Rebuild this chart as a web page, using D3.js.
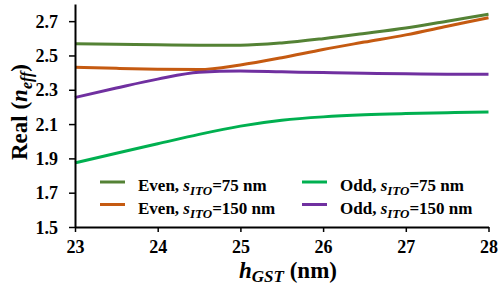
<!DOCTYPE html>
<html>
<head>
<meta charset="utf-8">
<script src="https://cdn.jsdelivr.net/npm/d3@7"></script>
<style>
body { margin: 0; background: #fff; }
</style>
</head>
<body>
<div id="chart"></div>
<script>
var hGST = [23, 23.5, 24, 24.5, 25, 25.5, 26, 26.5, 27, 27.5, 28];
var evenS75 = [2.568, 2.565, 2.562, 2.56, 2.56, 2.573, 2.598, 2.628, 2.66, 2.70, 2.74];
var evenS150 = [2.432, 2.425, 2.42, 2.418, 2.445, 2.487, 2.535, 2.578, 2.62, 2.67, 2.72];
var oddS75 = [1.874, 1.93, 1.985, 2.04, 2.088, 2.122, 2.142, 2.154, 2.161, 2.166, 2.17];
var oddS150 = [2.255, 2.31, 2.362, 2.402, 2.41, 2.405, 2.40, 2.396, 2.393, 2.391, 2.39];
var xTicks = [23, 24, 25, 26, 27, 28];
var yTicks = [1.5, 1.7, 1.9, 2.1, 2.3, 2.5, 2.7];

var series = [
    {name: "Even", s: "75", values: evenS75, color: "#548235", col: 0, row: 0},
    {name: "Even", s: "150", values: evenS150, color: "#c55a11", col: 0, row: 1},
    {name: "Odd", s: "75", values: oddS75, color: "#00b050", col: 1, row: 0},
    {name: "Odd", s: "150", values: oddS150, color: "#7030a0", col: 1, row: 1}
];

var font = "'Liberation Serif', 'Times New Roman', serif";
var width = 501, height = 286;
var svg = d3.select("#chart").append("svg")
    .attr("width", width)
    .attr("height", height);

var x = d3.scaleLinear().domain([23, 28]).range([75, 488.5]);
var y = d3.scaleLinear().domain([1.5, 2.8]).range([227, 4]);

var line = d3.line()
    .x(function(d, i) { return x(hGST[i]); })
    .y(function(d) { return y(d); })
    .curve(d3.curveMonotoneX);

svg.selectAll(".series")
    .data(series)
    .enter().append("path")
    .attr("class", "series")
    .attr("d", function(d) { return line(d.values); })
    .style("fill", "none")
    .style("stroke", function(d) { return d.color; })
    .style("stroke-width", 3);

// axes
var xAxis = svg.append("g")
    .attr("transform", "translate(0," + y(1.5) + ")")
    .call(d3.axisBottom(x).tickValues(xTicks).tickSize(5).tickSizeOuter(0).tickFormat(d3.format("d")));
var yAxis = svg.append("g")
    .attr("transform", "translate(" + x(23) + ",0)")
    .call(d3.axisLeft(y).tickValues(yTicks).tickSize(6).tickSizeOuter(0).tickFormat(d3.format(".1f")));

[xAxis, yAxis].forEach(function(a) {
    a.attr("font-family", null).attr("font-size", null);
    a.select(".domain").style("stroke", "#000").style("stroke-width", 2);
    a.selectAll(".tick line").style("stroke", "#000").style("stroke-width", 1.5);
    a.selectAll(".tick text")
        .style("font-family", font)
        .style("font-weight", "bold")
        .style("font-size", "18px")
        .style("fill", "#000");
});
xAxis.selectAll(".tick text").attr("dy", null).attr("y", 26);
yAxis.selectAll(".tick text").attr("x", -17).attr("dy", "0.34em");

// axis titles
var xt = svg.append("text")
    .attr("x", 288)
    .attr("y", 278)
    .style("text-anchor", "middle")
    .style("font-family", font)
    .style("font-weight", "bold")
    .style("font-size", "23px");
xt.append("tspan").style("font-style", "italic").text("h");
xt.append("tspan").style("font-style", "italic").style("font-size", "17px").attr("dy", 4).text("GST");
xt.append("tspan").attr("dy", -4).text(" (nm)");

var yt = svg.append("text")
    .attr("transform", "translate(27,112) rotate(-90)")
    .style("text-anchor", "middle")
    .style("font-family", font)
    .style("font-weight", "bold")
    .style("font-size", "23px");
yt.append("tspan").text("Real (");
yt.append("tspan").style("font-style", "italic").text("n");
yt.append("tspan").style("font-style", "italic").style("font-size", "16px").attr("dy", 5).text("eff");
yt.append("tspan").attr("dy", -5).text(")");

// legend
var colX = [100, 302], rowY = [182, 204.5];
var legend = svg.selectAll(".legend")
    .data(series)
    .enter().append("g")
    .attr("class", "legend")
    .attr("transform", function(d) { return "translate(" + colX[d.col] + "," + rowY[d.row] + ")"; });
legend.append("line")
    .attr("x1", 0).attr("x2", 25)
    .attr("y1", 0).attr("y2", 0)
    .style("stroke", function(d) { return d.color; })
    .style("stroke-width", 3);
var lt = legend.append("text")
    .attr("x", 38)
    .attr("y", 9)
    .style("font-family", font)
    .style("font-weight", "bold")
    .style("font-size", "17px");
lt.append("tspan").text(function(d) { return d.name + ", "; });
lt.append("tspan").style("font-style", "italic").text("s");
lt.append("tspan").style("font-style", "italic").style("font-size", "13px").attr("dy", 4).text("ITO");
lt.append("tspan").attr("dy", -4).text(function(d) { return "=" + d.s + " nm"; });
</script>
</body>
</html>
